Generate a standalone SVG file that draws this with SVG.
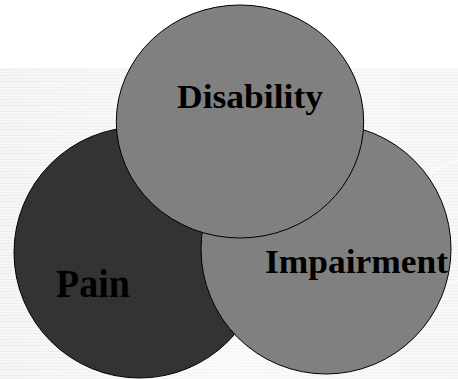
<svg xmlns="http://www.w3.org/2000/svg" width="458" height="379" viewBox="0 0 458 379">
  <defs>
    <pattern id="stripes" x="0" y="68" width="458" height="6" patternUnits="userSpaceOnUse">
      <rect width="458" height="6" fill="#f6f6f6"/>
      <rect y="1" width="458" height="1" fill="#ececec"/>
      <rect y="4" width="458" height="1" fill="#efefef"/>
    </pattern>
    <linearGradient id="fade" x1="0" y1="0" x2="1" y2="0">
      <stop offset="0" stop-color="#ffffff" stop-opacity="0"/>
      <stop offset="0.5" stop-color="#ffffff" stop-opacity="0.5"/>
      <stop offset="1" stop-color="#ffffff" stop-opacity="0.2"/>
    </linearGradient>
  </defs>
  <style>
    .c { stroke: #000000; stroke-width: 1; }
    .light { fill: #808080; }
    .dark { fill: #333333; }
    .lbl { font-family: "Liberation Serif", serif; font-weight: 700; fill: #000000; }
  </style>
  <rect width="458" height="379" fill="#ffffff"/>
  <rect x="0" y="68" width="458" height="311" fill="url(#stripes)"/>
  <rect x="0" y="68" width="458" height="311" fill="url(#fade)"/>
  <path d="M330 250 Q400 180 458 160" fill="none" stroke="#ffffff" stroke-width="2" opacity="0.6"/>
  <path d="M300 379 Q380 300 458 280" fill="none" stroke="#ffffff" stroke-width="2" opacity="0.6"/>

  <g id="pain">
    <circle class="c dark" cx="139.5" cy="252.5" r="125.5"/>
    <text class="lbl" x="56" y="297" font-size="39" textLength="74" lengthAdjust="spacingAndGlyphs">Pain</text>
  </g>
  <g id="impairment">
    <circle class="c light" cx="326" cy="249" r="125"/>
    <text class="lbl" x="265" y="273" font-size="33" textLength="183" lengthAdjust="spacingAndGlyphs">Impairment</text>
  </g>
  <g id="disability">
    <ellipse class="c light" cx="240" cy="121.5" rx="123.7" ry="116.5"/>
    <text class="lbl" x="177" y="108" font-size="33" textLength="146" lengthAdjust="spacingAndGlyphs">Disability</text>
  </g>
  <g id="connectors"/>
</svg>
